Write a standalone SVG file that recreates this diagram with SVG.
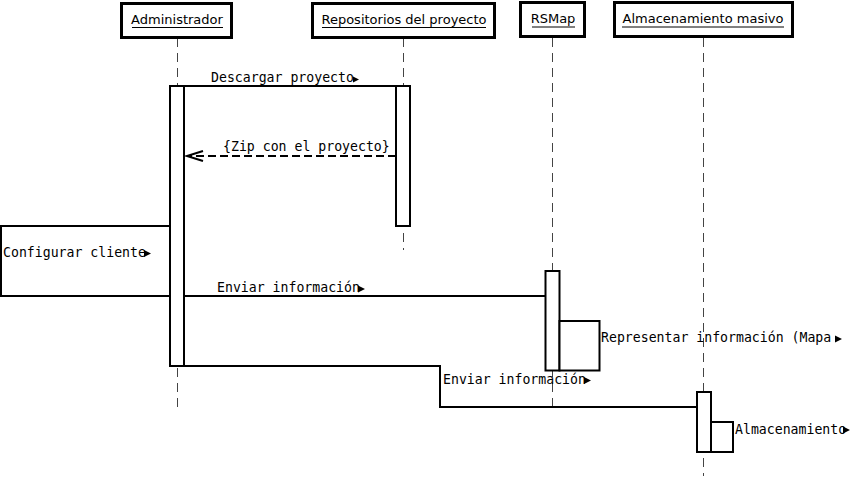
<svg xmlns="http://www.w3.org/2000/svg" width="852" height="484" viewBox="0 0 852 484">
<style>
.hdr{fill:#fff;stroke:#000;stroke-width:3}
.ht{font-family:"DejaVu Sans",sans-serif;font-size:13px;fill:#000;text-anchor:middle}
.ul{stroke:#000;stroke-width:1}
.life{stroke:#444;stroke-width:1;stroke-dasharray:9,6}
.act{fill:#fff;stroke:#000;stroke-width:2}
.msg{fill:none;stroke:#000;stroke-width:2}
.ret{fill:none;stroke:#000;stroke-width:2;stroke-dasharray:8,4}
.lbl{font-family:"DejaVu Sans Mono",monospace;font-size:13.2px;fill:#000}
.tri{fill:#000}
</style>
<rect width="852" height="484" fill="#fff"/>
<g id="lifelines">
<line class="life" x1="177.5" y1="38" x2="177.5" y2="407"/>
<line class="life" x1="403.5" y1="38" x2="403.5" y2="250"/>
<line class="life" x1="552.5" y1="38" x2="552.5" y2="411"/>
<line class="life" x1="703.5" y1="38" x2="703.5" y2="476"/>
</g>
<g id="administrador">
<rect class="hdr" x="121.5" y="3.5" width="110" height="34"/>
<text class="ht" x="177" y="24">Administrador</text>
<line class="ul" x1="132" y1="27.5" x2="223" y2="27.5"/>
<rect class="act" x="170" y="86" width="14" height="280"/>
</g>
<g id="repositorios">
<rect class="hdr" x="312.5" y="3.5" width="182" height="34"/>
<text class="ht" x="404" y="24">Repositorios del proyecto</text>
<line class="ul" x1="322" y1="27.5" x2="486" y2="27.5"/>
<rect class="act" x="396" y="86" width="14" height="140"/>
</g>
<g id="rsmap">
<rect class="hdr" x="520.5" y="2.5" width="64" height="34"/>
<text class="ht" x="553" y="23">RSMap</text>
<line class="ul" x1="532" y1="27" x2="575" y2="27"/>
<rect class="act" x="545.5" y="271" width="14" height="99.5"/>
<rect class="act" x="559.5" y="321" width="40" height="49.5"/>
</g>
<g id="almacenamiento">
<rect class="hdr" x="614.5" y="2.5" width="178" height="34"/>
<text class="ht" x="703" y="23">Almacenamiento masivo</text>
<line class="ul" x1="622" y1="27" x2="784" y2="27"/>
<rect class="act" x="697" y="392" width="14" height="60"/>
<rect class="act" x="711" y="422" width="22" height="30"/>
</g>
<g id="connectors">
<line class="msg" x1="184" y1="86" x2="396" y2="86"/>
<text class="lbl" x="211" y="82">Descargar proyecto</text>
<polygon class="tri" points="353,76.5 359,79.5 353,82.5"/>
<line class="ret" x1="396" y1="156" x2="188" y2="156"/>
<polyline class="msg" points="203,151 187,156 203,161"/>
<text class="lbl" x="223" y="151">{Zip con el proyecto}</text>
<polyline class="msg" points="170,226 1,226 1,296 170,296"/>
<text class="lbl" x="3" y="257">Configurar cliente</text>
<polygon class="tri" points="144,250 151,253.5 144,257"/>
<line class="msg" x1="184" y1="296" x2="545" y2="296"/>
<text class="lbl" x="217" y="292">Enviar información</text>
<polygon class="tri" points="358,285.5 365,289 358,292.5"/>
<text class="lbl" x="601" y="342">Representar información (Mapa</text>
<polygon class="tri" points="835,335.5 842,339 835,342.5"/>
<polyline class="msg" points="184,366 440,366 440,407 697,407"/>
<text class="lbl" x="443" y="384">Enviar información</text>
<polygon class="tri" points="584,377 591,380.5 584,384"/>
<text class="lbl" x="735" y="434">Almacenamiento</text>
<polygon class="tri" points="843,426.5 850,430 843,433.5"/>
</g>
</svg>
